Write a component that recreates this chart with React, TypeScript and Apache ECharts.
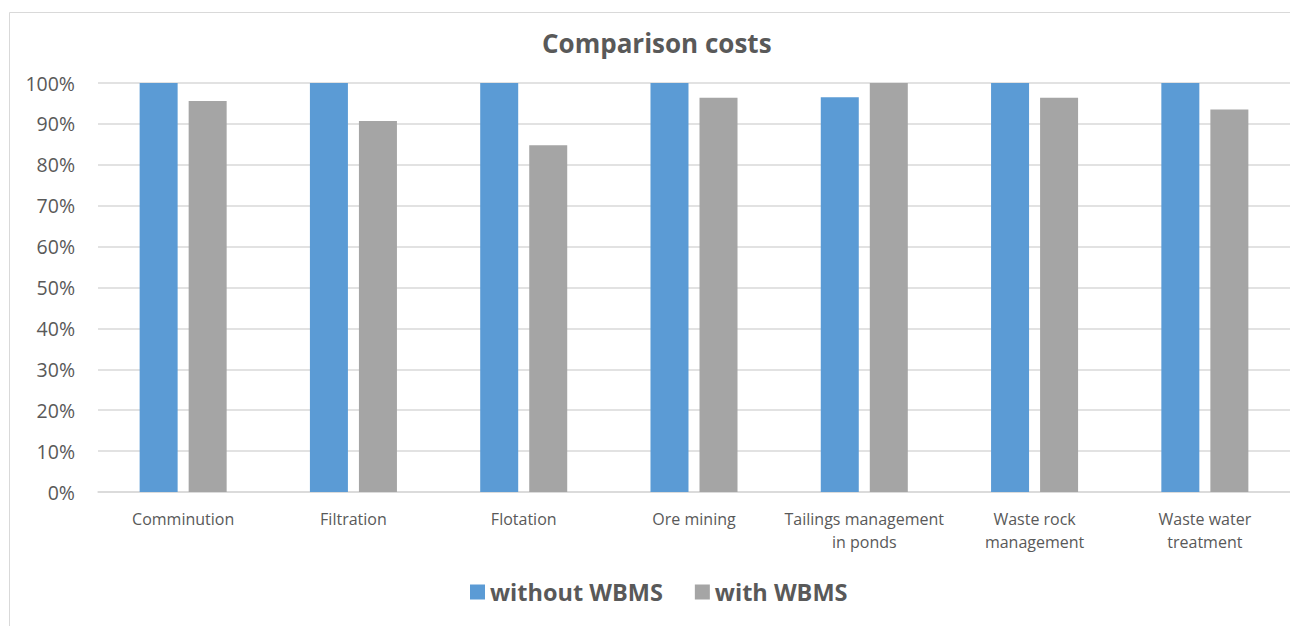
import React, { useEffect, useRef } from "react";
import * as echarts from "echarts";

const categories = [
  "Comminution",
  "Filtration",
  "Flotation",
  "Ore mining",
  "Tailings management\nin ponds",
  "Waste rock\nmanagement",
  "Waste water\ntreatment",
];
const withoutWBMS = [100, 100, 100, 100, 96.5, 100, 100];
const withWBMS = [95.6, 90.7, 84.8, 96.4, 100, 96.4, 93.5];
const yTicks = [0, 10, 20, 30, 40, 50, 60, 70, 80, 90, 100];

const FONT = "'Open Sans', 'Noto Sans', sans-serif";
const TXT = "#595959";

export default function App() {
  const ref = useRef<HTMLDivElement>(null);
  useEffect(() => {
    if (!ref.current) return;
    const chart = echarts.init(ref.current, null, { renderer: "svg" });
    chart.setOption({
      animation: false,
      backgroundColor: "#ffffff",
      title: {
        text: "Comparison costs",
        left: 537,
        top: 25,
        textStyle: { fontFamily: FONT, fontSize: 26, fontWeight: "bold", color: TXT },
      },
      graphic: [
        {
          type: "rect",
          shape: { x: 9.5, y: 12.5, width: 1400, height: 700 },
          style: { fill: "none", stroke: "#d9d9d9", lineWidth: 1 },
          silent: true,
        },
      ],
      legend: {
        bottom: 17,
        left: 465,
        itemWidth: 15,
        itemHeight: 15,
        itemGap: 32,
        icon: "rect",
        textStyle: { fontFamily: FONT, fontSize: 23.5, fontWeight: "bold", color: TXT },
        data: ["without WBMS", "with WBMS"],
      },
      grid: { left: 98, right: -2, top: 83, bottom: 134, containLabel: false },
      xAxis: {
        type: "category",
        data: categories,
        axisLine: { lineStyle: { color: "#d9d9d9", width: 1.5 } },
        axisTick: { show: false },
        axisLabel: {
          fontFamily: FONT,
          fontSize: 16,
          color: TXT,
          margin: 15,
          lineHeight: 23,
          interval: 0,
        },
      },
      yAxis: {
        type: "value",
        min: 0,
        max: 100,
        interval: 10,
        axisLabel: {
          fontFamily: FONT,
          fontSize: 19.5,
          color: TXT,
          margin: 23,
          formatter: (v: number) => (yTicks.includes(v) ? v + "%" : ""),
        },
        axisLine: { show: false },
        axisTick: { show: false },
        splitLine: { lineStyle: { color: "#d9d9d9", width: 1.5 } },
      },
      series: [
        {
          name: "without WBMS",
          type: "bar",
          data: withoutWBMS,
          barWidth: 38,
          barGap: "29%",
          itemStyle: { color: "#5b9bd5" },
        },
        {
          name: "with WBMS",
          type: "bar",
          data: withWBMS,
          barWidth: 38,
          itemStyle: { color: "#a5a5a5" },
        },
      ],
    });
    return () => chart.dispose();
  }, []);
  return (
    <div
      ref={ref}
      style={{ position: "absolute", left: 0, top: 0, width: 1290, height: 626 }}
    />
  );
}
